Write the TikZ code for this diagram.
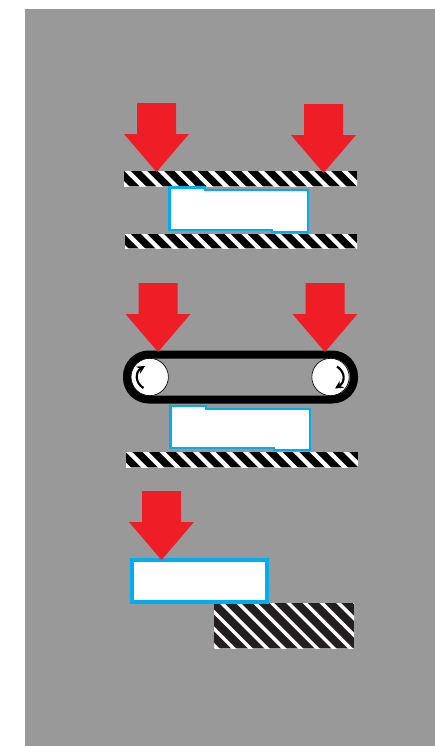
\documentclass[tikz,border=0pt]{standalone}
\usetikzlibrary{arrows.meta}
\definecolor{bggray}{RGB}{153,153,153}
\definecolor{pressred}{RGB}{239,29,37}
\definecolor{partblue}{RGB}{0,174,239}
\definecolor{hatchblack}{RGB}{35,31,32}
\tikzset{
  x=0.75pt, y=-0.75pt,
  backdrop/.style={fill=bggray},
  pressarrow/.style={fill=pressred},
  workpiece/.style={draw=partblue, fill=white, line width=2.1pt, miter limit=10},
  belt/.style={draw=black, line width=6pt, rounded corners=16.4pt},
  roller/.style={draw=black, fill=white, line width=0.5pt, circle, minimum size=28pt, inner sep=0pt},
  spin/.style={-{Stealth[length=6pt,width=6pt]}, line width=1.6pt},
  pics/pressdown/.style={code={
    \fill[pressarrow] (-19.5,0) -- (19.5,0) -- (19.5,31) -- (32.5,31) -- (0,69) -- (-32.5,31) -- (-19.5,31) -- cycle;
  }},
}
% striped bar: left, top, right, bottom, colour, white width, x of first stripe at the top edge
\newcommand{\stripebar}[7]{
  \begin{scope}
    \clip (#1,#2) rectangle (#3,#4);
    \fill[#5] (#1,#2) rectangle (#3,#4);
    \foreach \k in {-4,...,15} {
      \draw[white, line width=#6] (#7+16.7*\k-10,#2-10) -- (#7+16.7*\k+60,#2+60);
    }
  \end{scope}
}
\begin{document}
\begin{tikzpicture}
    \useasboundingbox (0,0) rectangle (435,746);
    \fill[backdrop] (25,9) rectangle (435,746);
    % flat press
    \stripebar{124}{171}{357}{186}{black}{3.2pt}{127.5}
    \stripebar{125}{234}{357}{248}{black}{3.2pt}{127.5}
    \draw[workpiece] (169.5,187.5) -- (205,187.5) -- (205,190) -- (308,190) -- (308,232) -- (272,232) -- (272,230) -- (169.5,230) -- cycle;
    \pic at (156.5,103) {pressdown};
    \pic at (323.5,104) {pressdown};
    % belt press
    \stripebar{126}{452}{358}{467}{black}{3.2pt}{129}
    \draw[workpiece] (170.5,406) -- (206,406) -- (206,409) -- (310,409) -- (310,450) -- (274,450) -- (274,448) -- (170.5,448) -- cycle;
    \draw[belt] (127,354.5) rectangle (354,399.5);
    \node[roller] (rollerl) at (149.7,377) {};
    \node[roller] (rollerr) at (330.5,377) {};
    \draw[spin] (143.5,388) .. controls (135,383) and (135,372) .. (145,366);
    \draw[spin] (337,366.5) .. controls (345.5,372) and (345.5,382) .. (335,388.5);
    \pic at (158,283) {pressdown};
    \pic at (325,283) {pressdown};
    % sliding block
    \stripebar{214}{603}{354}{648}{hatchblack}{2.6pt}{221.7}
    \draw[workpiece, line width=3pt] (132,560) rectangle (267,601.5);
    \pic at (161.5,491) {pressdown};
\end{tikzpicture}
\end{document}
